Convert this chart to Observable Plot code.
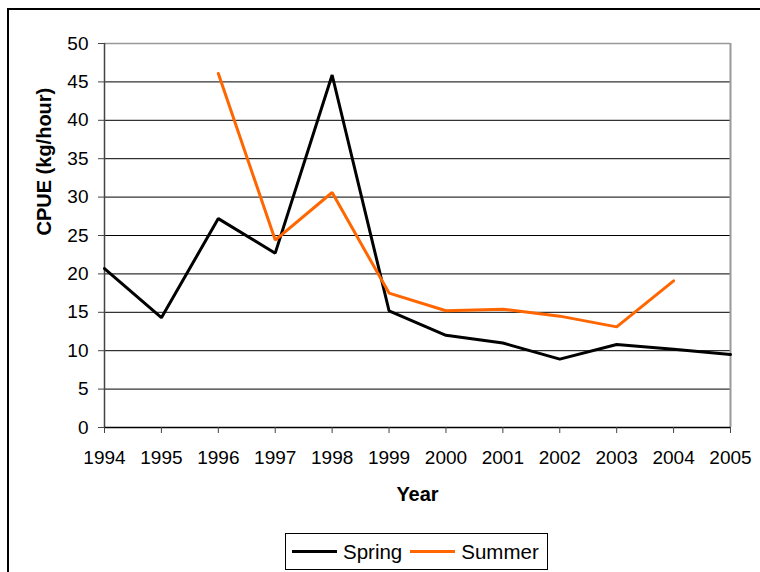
<!DOCTYPE html>
<html>
<head>
<meta charset="utf-8">
<script src="https://cdn.jsdelivr.net/npm/d3@7"></script>
<script src="https://cdn.jsdelivr.net/npm/@observablehq/plot@0.6"></script>
<style>
  html, body { margin: 0; padding: 0; background: #fff; }
  #wrap { position: relative; width: 760px; height: 572px; overflow: hidden; font-family: "Liberation Sans", Arial, sans-serif; }
  #frame { position: absolute; left: 7px; top: 8px; width: 900px; height: 900px; border: 2px solid #000; }
  #chart { position: absolute; left: 0; top: 0; }
  #legend { position: absolute; left: 285px; top: 533px; width: 261px; height: 35px; border: 1px solid #000; background: #fff; display: flex; align-items: center; font-size: 20.5px; color: #000; }
  .item { display: flex; align-items: center; }
  .sw { display: inline-block; width: 45px; height: 3px; margin-right: 6px; }
</style>
</head>
<body>
<div id="wrap">
  <div id="frame"></div>
  <div id="chart"></div>
  <div id="legend"></div>
</div>
<script>
const years = [1994, 1995, 1996, 1997, 1998, 1999, 2000, 2001, 2002, 2003, 2004, 2005];
const spring = [20.7, 14.3, 27.2, 22.7, 45.9, 15.2, 12.0, 11.0, 8.9, 10.8, 10.2, 9.5];
const summer = [null, null, 46.1, 24.4, 30.6, 17.5, 15.2, 15.4, 14.5, 13.1, 19.1, null];
const seriesNames = ["Spring", "Summer"];
const seriesColors = ["#000000", "#FF6600"];
const yTicks = [0, 5, 10, 15, 20, 25, 30, 35, 40, 45, 50];
const xLabel = "Year";
const yLabel = "CPUE (kg/hour)";

const rows = [];
years.forEach((yr, i) => {
  rows.push({year: yr, value: spring[i], series: seriesNames[0]});
  rows.push({year: yr, value: summer[i], series: seriesNames[1]});
});

const plot = Plot.plot({
  width: 760,
  height: 525,
  marginLeft: 104,
  marginRight: 30,
  marginTop: 43,
  marginBottom: 98,
  style: {fontFamily: "'Liberation Sans', Arial, sans-serif", fontSize: "19px", color: "#000", background: "transparent", overflow: "visible"},
  x: {type: "linear", domain: [1994, 2005]},
  y: {domain: [0, 50]},
  color: {domain: seriesNames, range: seriesColors},
  marks: [
    Plot.ruleY(yTicks.filter(d => d > 0 && d < 50), {stroke: "#000", strokeWidth: 1}),
    Plot.ruleY([50], {stroke: "#999", strokeWidth: 1.5}),
    Plot.ruleX([2005], {stroke: "#999", strokeWidth: 2}),
    Plot.ruleX([1994], {stroke: "#444", strokeWidth: 1.5, y1: 0, y2: 50}),
    Plot.ruleY([0], {stroke: "#000", strokeWidth: 1.5}),
    Plot.axisY({ticks: yTicks, tickSize: 6, tickPadding: 10, label: null, stroke: "#444", fontSize: 19}),
    Plot.axisX({ticks: years, tickFormat: d => String(d), tickSize: 6, tickPadding: 17, label: null, stroke: "#444", fontSize: 19}),
    Plot.line(rows.filter(d => d.series === "Spring"), {x: "year", y: "value", stroke: "series", strokeWidth: 3, strokeLinejoin: "miter"}),
    Plot.line(rows.filter(d => d.series === "Summer"), {x: "year", y: "value", stroke: "series", strokeWidth: 3, strokeLinejoin: "miter"}),
    Plot.text([xLabel], {frameAnchor: "bottom", dy: 73, fontWeight: "bold", fontSize: 20, fill: "#000"}),
    Plot.text([yLabel], {frameAnchor: "left", dx: -60, rotate: -90, fontWeight: "bold", fontSize: 20, fill: "#000"})
  ]
});
document.getElementById("chart").appendChild(plot);

const legend = document.getElementById("legend");
seriesNames.forEach((name, i) => {
  const item = document.createElement("div");
  item.className = "item";
  item.style.marginLeft = i === 0 ? "6px" : "8px";
  const sw = document.createElement("span");
  sw.className = "sw";
  sw.style.background = seriesColors[i];
  const t = document.createElement("span");
  t.textContent = name;
  item.appendChild(sw);
  item.appendChild(t);
  legend.appendChild(item);
});
</script>
</body>
</html>
